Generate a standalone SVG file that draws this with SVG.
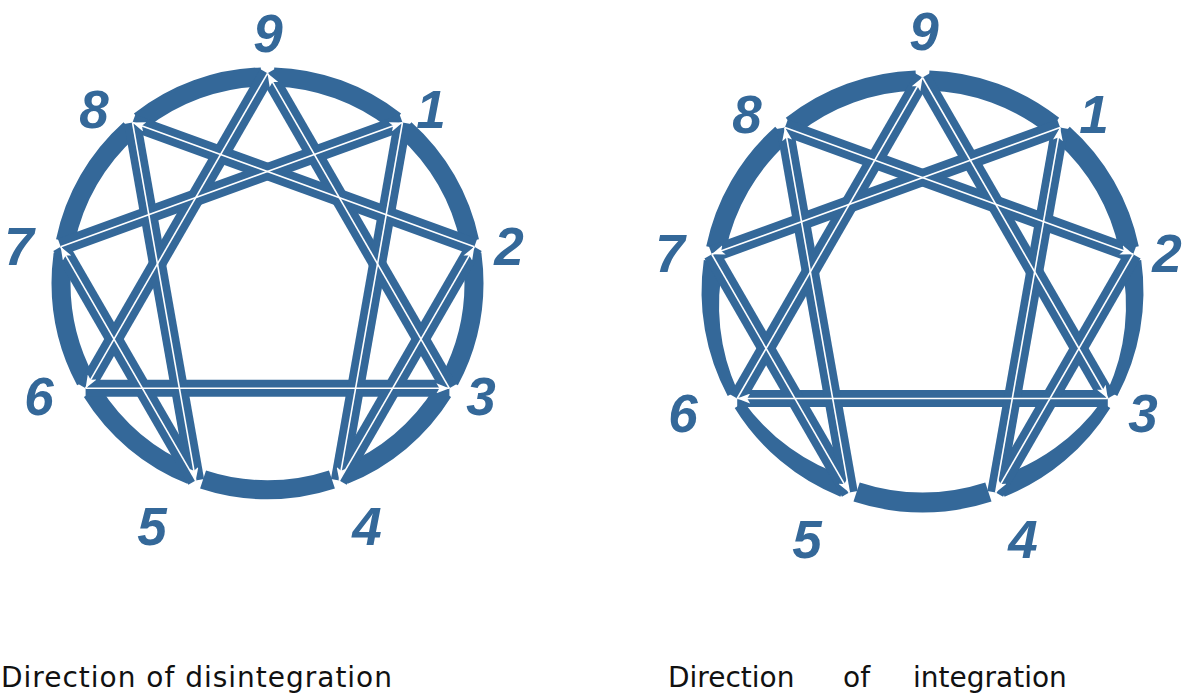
<svg xmlns="http://www.w3.org/2000/svg" width="1204" height="694" viewBox="0 0 1204 694">
  <style>
    .ring { fill: none; stroke: #346899; stroke-dasharray: 36.4 3.6; stroke-dashoffset: 8.2; }
    .arc { fill: none; stroke: #346899; stroke-width: 20; }
    .taper { fill: #346899; stroke: none; }
    .band { stroke: #346899; stroke-width: 17; stroke-linecap: butt; fill: none; }
    .core { stroke: #ffffff; stroke-width: 1.6; fill: none; marker-end: url(#ah); }
    .num { font-family: "Liberation Sans", Arial, sans-serif; font-weight: bold; font-style: italic; font-size: 53px; fill: #346899; text-anchor: middle; }
    .cap { font-family: "DejaVu Sans", "Liberation Sans", sans-serif; font-size: 28px; fill: #111111; }
  </style>
  <defs>
    <marker id="ah" viewBox="0 0 13 10" refX="13" refY="5" markerWidth="13" markerHeight="10" markerUnits="userSpaceOnUse" orient="auto">
      <path d="M0,0 L13,5 L0,10 L3,5 Z" fill="#ffffff"/>
    </marker>
  </defs>
  <rect width="1204" height="694" fill="#ffffff"/>

  <!-- LEFT: Direction of disintegration -->
  <g id="left-ring">
    <circle class="ring" cx="267.5" cy="283.3" r="206.5" stroke-width="19" pathLength="360"/>
  </g>
  <g id="left-connectors">
    <line class="band" x1="267.5" y1="73.3" x2="85.6" y2="388.3"/>
    <line class="band" x1="85.6" y1="388.3" x2="449.4" y2="388.3"/>
    <line class="band" x1="449.4" y1="388.3" x2="267.5" y2="73.3"/>
    <line class="band" x1="402.5" y1="122.4" x2="339.3" y2="480.6"/>
    <line class="band" x1="339.3" y1="480.6" x2="474.3" y2="246.8"/>
    <line class="band" x1="474.3" y1="246.8" x2="132.5" y2="122.4"/>
    <line class="band" x1="132.5" y1="122.4" x2="195.7" y2="480.6"/>
    <line class="band" x1="195.7" y1="480.6" x2="60.7" y2="246.8"/>
    <line class="band" x1="60.7" y1="246.8" x2="402.5" y2="122.4"/>
    <line class="core" x1="267.5" y1="73.3" x2="85.6" y2="388.3"/>
    <line class="core" x1="85.6" y1="388.3" x2="449.4" y2="388.3"/>
    <line class="core" x1="449.4" y1="388.3" x2="267.5" y2="73.3"/>
    <line class="core" x1="402.5" y1="122.4" x2="339.3" y2="480.6"/>
    <line class="core" x1="339.3" y1="480.6" x2="474.3" y2="246.8"/>
    <line class="core" x1="474.3" y1="246.8" x2="132.5" y2="122.4"/>
    <line class="core" x1="132.5" y1="122.4" x2="195.7" y2="480.6"/>
    <line class="core" x1="195.7" y1="480.6" x2="60.7" y2="246.8"/>
    <line class="core" x1="60.7" y1="246.8" x2="402.5" y2="122.4"/>
  </g>
  <g id="left-n9"><text class="num" x="268" y="52">9</text></g>
  <g id="left-n1"><text class="num" x="431" y="128">1</text></g>
  <g id="left-n2"><text class="num" x="509" y="265">2</text></g>
  <g id="left-n3"><text class="num" x="481" y="415">3</text></g>
  <g id="left-n4"><text class="num" x="367" y="545">4</text></g>
  <g id="left-n5"><text class="num" x="152" y="545">5</text></g>
  <g id="left-n6"><text class="num" x="39" y="415">6</text></g>
  <g id="left-n7"><text class="num" x="19" y="265">7</text></g>
  <g id="left-n8"><text class="num" x="94" y="128">8</text></g>
  <g id="left-caption"><text class="cap" x="1" y="687" textLength="391" lengthAdjust="spacing">Direction of disintegration</text></g>

  <!-- RIGHT: Direction of integration -->
  <g id="right-ring">
    <path class="arc" d="M716.0,248.4 A211,211 0 0 1 781.9,134.2 M792.0,125.7 A211,211 0 0 1 915.9,80.6 M929.1,80.6 A211,211 0 0 1 1053.0,125.7 M1063.1,134.2 A211,211 0 0 1 1129.0,248.4 M988.4,492.0 A211,211 0 0 1 856.6,492.0"/>
    <path class="taper" d="M1141.2,260.0 A221,221 0 0 1 1117.3,395.9 L1107.6,390.7 A206,206 0 0 0 1121.5,262.8 Z"/>
    <path class="taper" d="M1110.3,408.0 A221,221 0 0 1 1004.6,496.7 L996.8,477.2 A205,205 0 0 0 1101.0,402.2 Z"/>
    <path class="taper" d="M840.4,496.7 A221,221 0 0 1 734.7,408.0 L744.0,402.2 A205,205 0 0 0 848.2,477.2 Z"/>
    <path class="taper" d="M727.7,395.9 A221,221 0 0 1 703.8,260.0 L723.5,262.8 A206,206 0 0 0 737.4,390.7 Z"/>
  </g>
  <g id="right-connectors">
    <line class="band" x1="922.5" y1="77.5" x2="1107.8" y2="398.5"/>
    <line class="band" x1="1107.8" y1="398.5" x2="737.2" y2="398.5"/>
    <line class="band" x1="737.2" y1="398.5" x2="922.5" y2="77.5"/>
    <line class="band" x1="1060.1" y1="127.6" x2="711.8" y2="254.3"/>
    <line class="band" x1="711.8" y1="254.3" x2="849.3" y2="492.6"/>
    <line class="band" x1="849.3" y1="492.6" x2="784.9" y2="127.6"/>
    <line class="band" x1="784.9" y1="127.6" x2="1133.2" y2="254.3"/>
    <line class="band" x1="1133.2" y1="254.3" x2="995.7" y2="492.6"/>
    <line class="band" x1="995.7" y1="492.6" x2="1060.1" y2="127.6"/>
    <line class="core" x1="922.5" y1="77.5" x2="1107.8" y2="398.5"/>
    <line class="core" x1="1107.8" y1="398.5" x2="737.2" y2="398.5"/>
    <line class="core" x1="737.2" y1="398.5" x2="922.5" y2="77.5"/>
    <line class="core" x1="1060.1" y1="127.6" x2="711.8" y2="254.3"/>
    <line class="core" x1="711.8" y1="254.3" x2="849.3" y2="492.6"/>
    <line class="core" x1="849.3" y1="492.6" x2="784.9" y2="127.6"/>
    <line class="core" x1="784.9" y1="127.6" x2="1133.2" y2="254.3"/>
    <line class="core" x1="1133.2" y1="254.3" x2="995.7" y2="492.6"/>
    <line class="core" x1="995.7" y1="492.6" x2="1060.1" y2="127.6"/>
  </g>
  <g id="right-n9"><text class="num" x="924" y="50">9</text></g>
  <g id="right-n1"><text class="num" x="1094" y="133">1</text></g>
  <g id="right-n2"><text class="num" x="1167" y="272">2</text></g>
  <g id="right-n3"><text class="num" x="1143" y="432">3</text></g>
  <g id="right-n4"><text class="num" x="1023" y="558">4</text></g>
  <g id="right-n5"><text class="num" x="807" y="558">5</text></g>
  <g id="right-n6"><text class="num" x="683" y="432">6</text></g>
  <g id="right-n7"><text class="num" x="670" y="272">7</text></g>
  <g id="right-n8"><text class="num" x="747" y="133">8</text></g>
  <g id="right-caption"><text class="cap" y="687"><tspan x="668">Direction</tspan> <tspan x="843">of</tspan> <tspan x="913">integration</tspan></text></g>
</svg>
